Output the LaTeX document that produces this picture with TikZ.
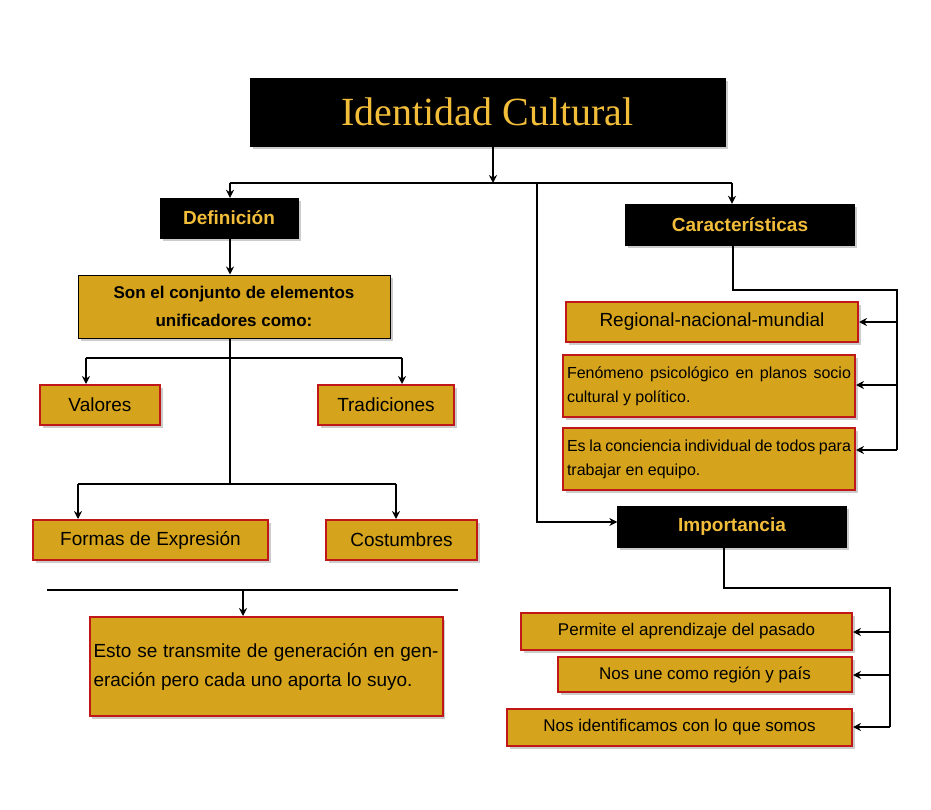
\documentclass[tikz,border=0pt]{standalone}
\usepackage{fontspec}
\setmainfont{Liberation Sans}
\newfontfamily\titlefont{Liberation Serif}
\usetikzlibrary{arrows.meta,shadows}
\definecolor{gold}{HTML}{D6A41C}
\definecolor{dred}{HTML}{C01818}
\definecolor{tgold}{HTML}{F2BE3A}
\tikzset{
  hbox/.style={draw=black,fill=black,text=tgold,font=\bfseries\fontsize{19}{22}\selectfont,
    inner sep=0pt,drop shadow={opacity=.4}},
  gbox/.style={draw=dred,line width=2pt,fill=gold,inner sep=4pt,
    font=\fontsize{19}{22}\selectfont,drop shadow={opacity=.4}},
  jbox/.style={gbox,align=justify,font=\fontsize{16}{24}\selectfont},
  link/.style={line width=2pt},
  arr/.style={link,-{Stealth[length=8pt,width=8pt]}}
}
\begin{document}
\begin{tikzpicture}[x=1pt,y=-1pt]
\useasboundingbox (0,0) rectangle (931,810);
% titulo y cabeceras
\node[hbox,minimum width=475pt,minimum height=68pt,font=\titlefont\fontsize{40}{44}\selectfont] (tit) at (487.5,112) {Identidad Cultural};
\node[hbox,minimum width=138pt,minimum height=40pt] (def) at (229,218) {Definición};
\node[hbox,minimum width=229pt,minimum height=41pt] (car) at (740,224.5) {Características};
\node[hbox,minimum width=229pt,minimum height=41pt] (imp) at (732,526.5) {Importancia};
% definicion
\node[gbox,draw=black,line width=1pt,minimum width=312pt,minimum height=63pt,align=center,
  font=\bfseries\fontsize{17}{28}\selectfont] (son) at (234,306.5) {Son el conjunto de elementos\\unificadores como:};
\node[gbox,minimum width=120pt,minimum height=40pt] (val) at (100,405) {Valores};
\node[gbox,minimum width=136pt,minimum height=40pt] (tra) at (386,405) {Tradiciones};
\node[gbox,minimum width=235pt,minimum height=40pt] (for) at (150.5,540) {Formas de Expresión};
\node[gbox,minimum width=151pt,minimum height=40pt] (cos) at (401.5,540) {Costumbres};
\node[gbox,text width=345pt,minimum height=99pt,align=justify,font=\fontsize{19}{29}\selectfont] (est) at (266,666.5)
  {Esto se transmite de generación en generación pero cada uno aporta lo suyo.};
% caracteristicas
\node[gbox,minimum width=292pt,minimum height=40pt] (reg) at (712,322) {Regional-nacional-mundial};
\node[jbox,text width=284pt,minimum height=62pt] (fen) at (709,386) {Fenómeno psicológico en planos socio cultural y político.};
\node[jbox,text width=284pt,minimum height=62pt] (con) at (709,459) {Es la conciencia individual de todos para trabajar en equipo.};
% importancia
\node[gbox,minimum width=331pt,minimum height=37pt,font=\fontsize{17}{20}\selectfont] (apr) at (686.5,631.5) {Permite el aprendizaje del pasado};
\node[gbox,minimum width=294pt,minimum height=35pt,font=\fontsize{17}{20}\selectfont] (une) at (705,674.5) {Nos une como región y país};
\node[gbox,minimum width=345pt,minimum height=37pt,font=\fontsize{17}{20}\selectfont] (ide) at (679.5,727.5) {Nos identificamos con lo que somos};
% conectores
\coordinate (t1) at (493,183);
\draw[arr] (tit.south -| t1) -- (t1);
\draw[link] (230,183) -- (732,183);
\draw[arr] (230,183) -- (def.north -| 230,0);
\draw[arr] (732,183) -- (car.north -| 732,0);
\draw[arr] (537,183) -- (537,522) -- (imp.west |- 0,522);
\draw[arr] (def.south -| 230,0) -- (son.north -| 230,0);
\draw[link] (son.south -| 230,0) -- (230,484);
\draw[link] (86,358) -- (402,358);
\draw[arr] (86,358) -- (val.north -| 86,0);
\draw[arr] (402,358) -- (tra.north -| 402,0);
\draw[link] (78,484) -- (396,484);
\draw[arr] (78,484) -- (for.north -| 78,0);
\draw[arr] (396,484) -- (cos.north -| 396,0);
\draw[link] (47,590) -- (458,590);
\draw[arr] (243,590) -- (est.north -| 243,0);
\draw[link] (car.south -| 733,0) -- (733,290) -- (897,290) -- (897,450);
\draw[arr] (897,322) -- (reg.east);
\draw[arr] (897,385) -- (fen.east |- 0,385);
\draw[arr] (897,450) -- (con.east |- 0,450);
\draw[link] (imp.south -| 724,0) -- (724,588) -- (890,588) -- (890,727);
\draw[arr] (890,632) -- (apr.east |- 0,632);
\draw[arr] (890,675) -- (une.east |- 0,675);
\draw[arr] (890,727) -- (ide.east |- 0,727);
\end{tikzpicture}
\end{document}
